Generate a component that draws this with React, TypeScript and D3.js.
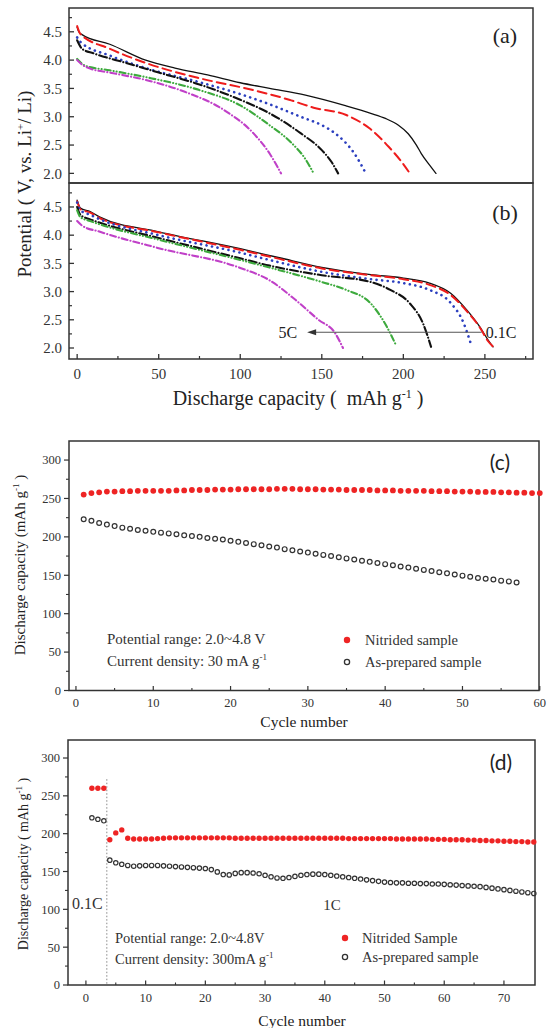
import React from 'react';
import * as d3 from 'd3';

// ---------- Panel (a): as-prepared, discharge curves [capacity, potential] ----------
const a01C = [[0,4.58],[1,4.5],[3,4.45],[20,4.28],[42,4.0],[60,3.86],[80,3.74],[100,3.6],[118,3.5],[140,3.38],[165,3.19],[180,3.06],[189,2.97],[197,2.85],[203,2.7],[208,2.5],[211,2.35],[216,2.15],[220,2.0]];
const a02C = [[0,4.6],[2,4.46],[20,4.2],[42,3.95],[75,3.68],[108,3.47],[130,3.3],[145,3.16],[165,3.03],[179,2.8],[191,2.47],[199,2.2],[204,2.0]];
const a05C = [[0,4.4],[2,4.32],[20,4.08],[42,3.86],[75,3.61],[100,3.4],[118,3.22],[137,3.0],[150,2.85],[158,2.71],[170,2.35],[177,2.0]];
const a1C = [[0,4.35],[3,4.2],[10,4.12],[30,3.95],[50,3.78],[75,3.57],[100,3.3],[118,3.06],[137,2.71],[150,2.41],[156,2.2],[160,2.0]];
const a2C = [[0,4.02],[5,3.9],[20,3.82],[42,3.7],[75,3.47],[100,3.2],[118,2.85],[131,2.55],[140,2.25],[145,2.0]];
const a5C = [[0,4.0],[3,3.92],[8,3.85],[20,3.78],[42,3.65],[66,3.44],[90,3.12],[108,2.71],[118,2.35],[125,2.0]];

// ---------- Panel (b): nitrided, discharge curves ----------
const b01C = [[0,4.62],[2,4.48],[8,4.42],[14,4.32],[50,4.06],[100,3.76],[124,3.6],[150,3.43],[180,3.3],[200,3.24],[216,3.15],[229,2.97],[239,2.67],[247,2.37],[252,2.14],[255,2.02]];
const b02C = [[0,4.6],[2,4.46],[8,4.4],[14,4.3],[50,4.05],[100,3.74],[124,3.58],[150,3.41],[180,3.29],[200,3.22],[216,3.12],[229,2.94],[239,2.65],[247,2.36],[252,2.12],[256,2.0]];
const b05C = [[0,4.58],[2,4.44],[8,4.36],[14,4.28],[50,4.0],[100,3.69],[118,3.56],[150,3.35],[180,3.22],[200,3.15],[216,3.03],[229,2.8],[237,2.44],[241,2.11]];
const b1C = [[0,4.5],[2,4.36],[8,4.28],[14,4.22],[50,3.95],[100,3.59],[118,3.46],[150,3.29],[180,3.17],[192,3.03],[204,2.79],[212,2.44],[217,2.02]];
const b2C = [[0,4.44],[2,4.32],[8,4.25],[14,4.19],[50,3.92],[100,3.56],[124,3.38],[150,3.17],[165,3.03],[180,2.79],[190,2.37],[195,2.08]];
const b5C = [[0,4.25],[3,4.17],[14,4.06],[50,3.77],[100,3.42],[118,3.2],[134,2.85],[148,2.5],[158,2.27],[163,2.0]];

// ---------- Panel (c): cycling at 30 mA/g ----------
const cNitrided = [255,257,258,259,259,259.5,259.5,260,260,260,260,260,260.5,260.5,261,261,261,261.5,261.5,261.5,262,262,262,262,262,262.5,262.5,262.5,262,262,262,261.5,261.5,261.5,261,261,261,261,260.5,260.5,260.5,260,260,260,260,259.5,259.5,259.5,259,259,259,258.5,258.5,258.5,258,258,257.5,257.5,257,257];
const cAsPrepared = [223,221,218,216,214,212,210.5,209,208,206.5,205.5,204.5,203.5,202,201,200,198.5,197.5,196.5,195,193.5,192,190.5,189,187.5,186,184,182.5,181,179.5,178,176.5,175,173.5,172,170.5,169,167.5,166,164.5,163,161.5,160,158.5,157,155.5,154,152.5,151,149.5,148,146.5,145.5,144.5,143,142,140.5];

// ---------- Panel (d): rate cycling ----------
const dNitrided = [260,260,260,192,201,205,194,193,193,193,193,193.5,194,194.5,194.5,194.5,194.5,194.5,194.5,194.5,194.5,194.5,194.5,194.5,194,194,194,194,194,194,194,194,194,194,194,194,194,194,194,194,194,194,194,193.5,193.5,193.5,193.5,193.5,193.5,193.5,193.5,193,193,193,193,193,193,192.5,192.5,192.5,192,192,192,191.5,191.5,191,191,190.5,190.5,190,190,189.5,189.5,189,189];
const dAsPrepared = [221,219,217,165,161.5,159.5,158,157,157.5,158,158,158,157.5,157,156.5,156,155.5,155,154.5,154,152.5,149.5,146,145.5,147.5,148.5,148.5,148,147,145,143,141.5,141,142,143.5,145,146,146.5,146.5,146,145,144,143,142,141,140,139,138,137,136,135.5,135,135,134.5,134.5,134,134,133.5,133.5,133,132.5,132,131.5,131,130.5,130,129,128,127,126,125,124,123,122,121];

// ---------- ticks ----------
const potMajor = [2.0,2.5,3.0,3.5,4.0,4.5];
const potMinor = [2.25,2.75,3.25,3.75,4.25,4.75];
const capMajor = [0,50,100,150,200,250];
const capMinor = [25,75,125,175,225,275];
const dcMajor = [0,50,100,150,200,250,300];
const dcMinor = [25,75,125,175,225,275];
const cycMajorC = [0,10,20,30,40,50,60];
const cycMinorC = [5,15,25,35,45,55];
const cycMajorD = [0,10,20,30,40,50,60,70];
const cycMinorD = [5,15,25,35,45,55,65];

const SERIF = '"Liberation Serif", "DejaVu Serif", serif';
const SANS = 'Lato, "Open Sans", "Liberation Sans", sans-serif';
const FRAME = '#333';
const TXT = '#333';
const NB = '\u00a0';

const styles = [
  { color: '#111', dash: '', w: 1.3 },
  { color: '#ee1c1c', dash: '9,5', w: 2 },
  { color: '#2b3fbf', dash: '0.1,5.5', w: 2.6 },
  { color: '#111', dash: '8,3,0.1,3', w: 2.1 },
  { color: '#3daa3d', dash: '6,3,0.1,3,0.1,3', w: 2.1 },
  { color: '#c040c8', dash: '6,3,0.1,3', w: 2.1 },
];

export default function App() {
  const xAB = d3.scaleLinear().domain([-5, 279.5]).range([69, 533]);
  const yA = d3.scaleLinear().domain([1.83, 4.92]).range([183, 8]);
  const yB = d3.scaleLinear().domain([1.805, 4.925]).range([359, 183]);
  const xC = d3.scaleLinear().domain([-0.9, 59.9]).range([69, 539]);
  const yC = d3.scaleLinear().domain([0, 324.8]).range([690.5, 441]);
  const xD = d3.scaleLinear().domain([-3.0, 75.2]).range([68, 535]);
  const yD = d3.scaleLinear().domain([0, 323.8]).range([985, 740]);

  const lineA = d3.line<number[]>().x(d => xAB(d[0])).y(d => yA(d[1])).curve(d3.curveMonotoneX);
  const lineB = d3.line<number[]>().x(d => xAB(d[0])).y(d => yB(d[1])).curve(d3.curveMonotoneX);

  const curvesA = [a01C, a02C, a05C, a1C, a2C, a5C];
  const curvesB = [b01C, b02C, b05C, b1C, b2C, b5C];

  const arrowY = yB(2.28);
  const arrowX1 = xAB(248);
  const arrowX0 = xAB(141);

  return (
    <svg width={548} height={1028} style={{ position: 'absolute', left: 0, top: 0, background: '#fff' }}>
      <rect x={0} y={0} width={548} height={1028} fill="#fff" />

      {/* ===== Panel (a) ===== */}
      <g>
        {curvesA.map((c, i) => (
          <path key={'a' + i} d={lineA(c) || ''} fill="none" stroke={styles[i].color} strokeWidth={styles[i].w}
            strokeDasharray={styles[i].dash} strokeLinecap="round" />
        ))}
        <rect x={69} y={8} width={464} height={175} fill="none" stroke={FRAME} strokeWidth={1.5} />
        {potMajor.map(v => (
          <g key={'ay' + v}>
            <line x1={69} x2={74} y1={yA(v)} y2={yA(v)} stroke={FRAME} strokeWidth={1.3} />
            <text x={62} y={yA(v)} dy="0.35em" textAnchor="end" fontFamily={SERIF} fontSize={15} fill={TXT}>{v.toFixed(1)}</text>
          </g>
        ))}
        {potMinor.map(v => (
          <line key={'aym' + v} x1={69} x2={72} y1={yA(v)} y2={yA(v)} stroke={FRAME} strokeWidth={1.2} />
        ))}
        <text x={505} y={35} dy="0.35em" textAnchor="middle" fontFamily={SERIF} fontSize={22} fill="#222">(a)</text>
      </g>

      {/* ===== Panel (b) ===== */}
      <g>
        {curvesB.map((c, i) => (
          <path key={'b' + i} d={lineB(c) || ''} fill="none" stroke={styles[i].color} strokeWidth={styles[i].w}
            strokeDasharray={styles[i].dash} strokeLinecap="round" />
        ))}
        <rect x={69} y={183} width={464} height={176} fill="none" stroke={FRAME} strokeWidth={1.5} />
        {potMajor.map(v => (
          <g key={'by' + v}>
            <line x1={69} x2={74} y1={yB(v)} y2={yB(v)} stroke={FRAME} strokeWidth={1.3} />
            <text x={62} y={yB(v)} dy="0.35em" textAnchor="end" fontFamily={SERIF} fontSize={15} fill={TXT}>{v.toFixed(1)}</text>
          </g>
        ))}
        {potMinor.map(v => (
          <line key={'bym' + v} x1={69} x2={72} y1={yB(v)} y2={yB(v)} stroke={FRAME} strokeWidth={1.2} />
        ))}
        {capMajor.map(v => (
          <g key={'bx' + v}>
            <line x1={xAB(v)} x2={xAB(v)} y1={359} y2={354} stroke={FRAME} strokeWidth={1.3} />
            <text x={xAB(v)} y={374} dy="0.35em" textAnchor="middle" fontFamily={SERIF} fontSize={15} fill={TXT}>{v}</text>
          </g>
        ))}
        {capMinor.map(v => (
          <line key={'bxm' + v} x1={xAB(v)} x2={xAB(v)} y1={359} y2={356} stroke={FRAME} strokeWidth={1.2} />
        ))}
        <text x={505} y={212} dy="0.35em" textAnchor="middle" fontFamily={SERIF} fontSize={22} fill="#222">(b)</text>
        {/* arrow */}
        <line x1={arrowX1} x2={arrowX0 + 6} y1={arrowY} y2={arrowY} stroke="#555" strokeWidth={1.1} />
        <path d={`M${arrowX0},${arrowY} L${arrowX0 + 9},${arrowY - 3} L${arrowX0 + 9},${arrowY + 3} Z`} fill="#333" />
        <text x={arrowX0 - 10} y={arrowY} dy="0.35em" textAnchor="end" fontFamily={SERIF} fontSize={16} fill="#222">5C</text>
        <text x={arrowX1 + 4} y={arrowY} dy="0.35em" textAnchor="start" fontFamily={SERIF} fontSize={16} fill="#222">0.1C</text>
        <text x={298} y={398} dy="0.35em" textAnchor="middle" fontFamily={SERIF} fontSize={20} fill="#222">
          {'Discharge capacity (' + NB + NB + 'mAh g'}<tspan dy={-7} fontSize={12}>-1</tspan><tspan dy={7}>{NB + ')'}</tspan>
        </text>
      </g>

      {/* shared y label for (a),(b) */}
      <text transform="translate(24,184) rotate(-90)" textAnchor="middle" dy="0.35em" fontFamily={SERIF} fontSize={19} fill="#222">
        {'Potential (' + NB + 'V, vs. Li'}<tspan dy={-7} fontSize={11}>+</tspan><tspan dy={7}>{'/' + NB + 'Li)'}</tspan>
      </text>

      {/* ===== Panel (c) ===== */}
      <g>
        <rect x={69} y={441} width={470} height={249.5} fill="none" stroke={FRAME} strokeWidth={1.5} />
        {dcMajor.map(v => (
          <g key={'cy' + v}>
            <line x1={69} x2={64} y1={yC(v)} y2={yC(v)} stroke={FRAME} strokeWidth={1.2} />
            <text x={61} y={yC(v)} dy="0.35em" textAnchor="end" fontFamily={SERIF} fontSize={12.5} fill={TXT}>{v}</text>
          </g>
        ))}
        {dcMinor.map(v => (
          <line key={'cym' + v} x1={69} x2={66} y1={yC(v)} y2={yC(v)} stroke={FRAME} strokeWidth={1.1} />
        ))}
        {cycMajorC.map(v => (
          <g key={'cx' + v}>
            <line x1={xC(v)} x2={xC(v)} y1={690.5} y2={686} stroke={FRAME} strokeWidth={1.2} />
            <text x={xC(v)} y={703} dy="0.35em" textAnchor="middle" fontFamily={SERIF} fontSize={12.5} fill={TXT}>{v}</text>
          </g>
        ))}
        {cycMinorC.map(v => (
          <line key={'cxm' + v} x1={xC(v)} x2={xC(v)} y1={690.5} y2={688} stroke={FRAME} strokeWidth={1.1} />
        ))}
        {cNitrided.map((v, i) => (
          <circle key={'cn' + i} cx={xC(i + 1)} cy={yC(v)} r={2.9} fill="#ee2424" />
        ))}
        {cAsPrepared.map((v, i) => (
          <circle key={'ca' + i} cx={xC(i + 1)} cy={yC(v)} r={2.4} fill="none" stroke="#333" strokeWidth={1.2} />
        ))}
        <text x={500} y={463} dy="0.35em" textAnchor="middle" fontFamily={SANS} fontSize={21} fill="#222">(c)</text>
        <text x={107} y={639} dy="0.35em" fontFamily={SERIF} fontSize={15} fill="#333">Potential range: 2.0~4.8 V</text>
        <text x={107} y={661} dy="0.35em" fontFamily={SERIF} fontSize={15} fill="#333">
          Current density: 30 mA g<tspan dy={-6} fontSize={9}>-1</tspan>
        </text>
        <circle cx={347} cy={640} r={3.2} fill="#ee2424" />
        <text x={365} y={640} dy="0.35em" fontFamily={SERIF} fontSize={14.5} fill="#333">Nitrided sample</text>
        <circle cx={347} cy={662} r={2.6} fill="none" stroke="#333" strokeWidth={1.3} />
        <text x={365} y={662} dy="0.35em" fontFamily={SERIF} fontSize={14.5} fill="#333">As-prepared sample</text>
        <text x={304} y={722} dy="0.35em" textAnchor="middle" fontFamily={SERIF} fontSize={15.5} fill="#222">Cycle number</text>
        <text transform="translate(20,565) rotate(-90)" textAnchor="middle" dy="0.35em" fontFamily={SERIF} fontSize={15} fill="#222">
          Discharge capacity (mAh g<tspan dy={-6} fontSize={9}>-1</tspan><tspan dy={6}>{NB + ')'}</tspan>
        </text>
      </g>

      {/* ===== Panel (d) ===== */}
      <g>
        <rect x={68} y={740} width={467} height={245} fill="none" stroke={FRAME} strokeWidth={1.5} />
        {dcMajor.map(v => (
          <g key={'dy' + v}>
            <line x1={68} x2={63} y1={yD(v)} y2={yD(v)} stroke={FRAME} strokeWidth={1.2} />
            <text x={60} y={yD(v)} dy="0.35em" textAnchor="end" fontFamily={SERIF} fontSize={12.5} fill={TXT}>{v}</text>
          </g>
        ))}
        {dcMinor.map(v => (
          <line key={'dym' + v} x1={68} x2={65} y1={yD(v)} y2={yD(v)} stroke={FRAME} strokeWidth={1.1} />
        ))}
        {cycMajorD.map(v => (
          <g key={'dx' + v}>
            <line x1={xD(v)} x2={xD(v)} y1={985} y2={980.5} stroke={FRAME} strokeWidth={1.2} />
            <text x={xD(v)} y={998} dy="0.35em" textAnchor="middle" fontFamily={SERIF} fontSize={12.5} fill={TXT}>{v}</text>
          </g>
        ))}
        {cycMinorD.map(v => (
          <line key={'dxm' + v} x1={xD(v)} x2={xD(v)} y1={985} y2={982.5} stroke={FRAME} strokeWidth={1.1} />
        ))}
        <line x1={xD(3.5)} x2={xD(3.5)} y1={yD(272)} y2={985} stroke="#888" strokeWidth={1} strokeDasharray="1.5,2" />
        {dNitrided.map((v, i) => (
          <circle key={'dn' + i} cx={xD(i + 1)} cy={yD(v)} r={2.7} fill="#ee2424" />
        ))}
        {dAsPrepared.map((v, i) => (
          <circle key={'da' + i} cx={xD(i + 1)} cy={yD(v)} r={2.2} fill="none" stroke="#333" strokeWidth={1.2} />
        ))}
        <text x={501} y={763} dy="0.35em" textAnchor="middle" fontFamily={SANS} fontSize={21} fill="#222">(d)</text>
        <text x={72} y={903} dy="0.35em" fontFamily={SERIF} fontSize={16} fill="#333">0.1C</text>
        <text x={332} y={905} dy="0.35em" textAnchor="middle" fontFamily={SERIF} fontSize={15} fill="#333">1C</text>
        <text x={115} y={938} dy="0.35em" fontFamily={SERIF} fontSize={14.5} fill="#333">Potential range: 2.0~4.8V</text>
        <text x={115} y={959} dy="0.35em" fontFamily={SERIF} fontSize={14.5} fill="#333">
          Current density: 300mA g<tspan dy={-6} fontSize={9}>-1</tspan>
        </text>
        <circle cx={345} cy={938} r={3.2} fill="#ee2424" />
        <text x={362} y={938} dy="0.35em" fontFamily={SERIF} fontSize={14.5} fill="#333">Nitrided Sample</text>
        <circle cx={345} cy={957} r={2.6} fill="none" stroke="#333" strokeWidth={1.3} />
        <text x={362} y={957} dy="0.35em" fontFamily={SERIF} fontSize={14.5} fill="#333">As-prepared sample</text>
        <text x={302} y={1021} dy="0.35em" textAnchor="middle" fontFamily={SERIF} fontSize={15.5} fill="#222">Cycle number</text>
        <text transform="translate(23,864) rotate(-90)" textAnchor="middle" dy="0.35em" fontFamily={SERIF} fontSize={14} fill="#222">
          {'Discharge capacity (' + NB + 'mAh g'}<tspan dy={-6} fontSize={9}>-1</tspan><tspan dy={6}>{NB + ')'}</tspan>
        </text>
      </g>
    </svg>
  );
}
